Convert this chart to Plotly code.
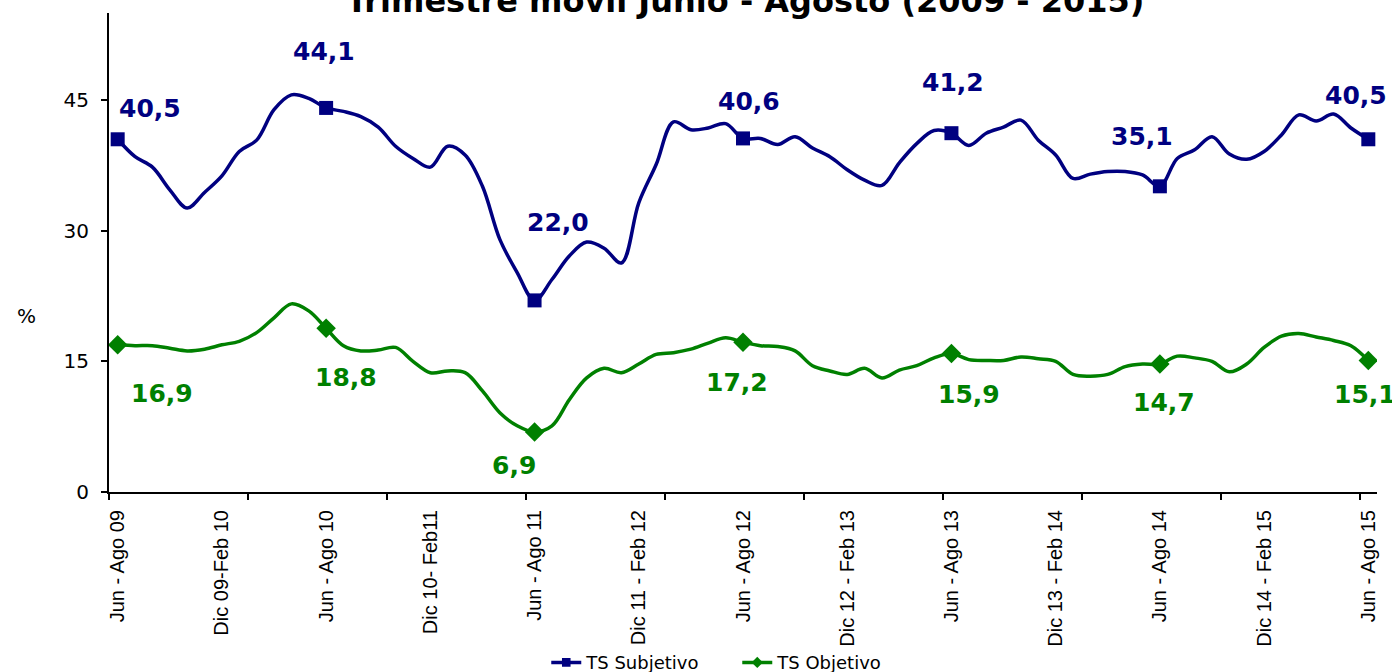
import plotly.graph_objects as go

# Rolling quarter index (monthly steps, Jun-Ago 2009 .. Jun-Ago 2015)
period_index = list(range(73))

tick_positions = list(range(0, 73, 6))
tick_labels = [
    "Jun - Ago 09", "Dic 09-Feb 10", "Jun - Ago 10", "Dic 10- Feb11",
    "Jun - Ago 11", "Dic 11 - Feb 12", "Jun - Ago 12", "Dic 12 - Feb 13",
    "Jun - Ago 13", "Dic 13 - Feb 14", "Jun - Ago 14", "Dic 14 - Feb 15",
    "Jun - Ago 15",
]

ts_subjetivo = [
    40.5, 38.5, 37.3, 34.7, 32.6, 34.4, 36.3, 39.1, 40.4, 43.9, 45.6, 45.2,
    44.1, 43.7, 43.1, 41.9, 39.7, 38.3, 37.3, 39.7, 38.7, 35.1, 29.0, 25.2,
    22.0, 24.4, 27.1, 28.7, 28.0, 26.3, 33.2, 37.6, 42.5, 41.6, 41.8, 42.3,
    40.6, 40.6, 39.9, 40.8, 39.5, 38.5, 37.0, 35.8, 35.2, 37.8, 40.0, 41.5,
    41.2, 39.8, 41.2, 41.9, 42.7, 40.4, 38.7, 36.0, 36.5, 36.8, 36.8, 36.4,
    35.1, 38.3, 39.3, 40.8, 38.8, 38.2, 39.1, 41.0, 43.3, 42.6, 43.4, 41.8,
    40.5,
]

ts_objetivo = [
    16.9, 16.8, 16.8, 16.5, 16.2, 16.4, 16.9, 17.3, 18.3, 20.0, 21.6, 20.8,
    18.8, 16.8, 16.2, 16.3, 16.6, 15.0, 13.7, 13.9, 13.7, 11.6, 9.1, 7.6,
    6.9, 7.6, 10.6, 13.1, 14.2, 13.7, 14.7, 15.8, 16.0, 16.4, 17.1, 17.7,
    17.2, 16.8, 16.7, 16.2, 14.5, 13.9, 13.5, 14.2, 13.1, 14.0, 14.5, 15.4,
    15.9, 15.2, 15.1, 15.1, 15.5, 15.3, 15.0, 13.5, 13.3, 13.5, 14.4, 14.7,
    14.7, 15.6, 15.4, 15.0, 13.8, 14.7, 16.6, 17.9, 18.2, 17.8, 17.4, 16.8,
    15.1,
]

# Jun-Ago quarters get a marker and a value label
labelled = list(range(0, 73, 12))

NAVY = "#000080"
GREEN = "#008000"
TXT_FONT = "DejaVu Sans"
AXIS_FONT = "Arial, Liberation Sans, sans-serif"

# label placement (pixel shifts from each marked point)
sub_shift = [(32, 31), (-2, 56), (23, 78), (6, 37), (2, 51), (-18, 50), (-12, 44)]
obj_shift = [(44, -49), (20, -49), (-21, -34), (-6, -40), (18, -41), (4, -39), (-3, -34)]


def marker_colors(color):
    return [color if i in labelled else "rgba(0,0,0,0)" for i in period_index]


def marker_sizes(size):
    return [size if i in labelled else 8 for i in period_index]


def fmt(v):
    return f"{v:.1f}".replace(".", ",")


fig = go.Figure()

fig.add_trace(go.Scatter(
    x=period_index, y=ts_subjetivo, name="TS Subjetivo",
    mode="lines+markers",
    line=dict(color=NAVY, width=3.5, shape="spline", smoothing=1.0),
    marker=dict(symbol="square", size=marker_sizes(14), color=marker_colors(NAVY),
                opacity=1, line=dict(width=0)),
    hoverinfo="skip",
))

fig.add_trace(go.Scatter(
    x=period_index, y=ts_objetivo, name="TS Objetivo",
    mode="lines+markers",
    line=dict(color=GREEN, width=3.5, shape="spline", smoothing=1.0),
    marker=dict(symbol="diamond", size=marker_sizes(15), color=marker_colors(GREEN),
                opacity=1, line=dict(width=0)),
    hoverinfo="skip",
))

W, H = 1392, 672
L, R, T, B = 108.6, 15, 13.3, 179.7
PW, PH = W - L - R, H - T - B


def px_x(p):
    return (p - L) / PW


def px_y(p):
    return (H - B - p) / PH


annotations = []
for k, i in enumerate(labelled):
    dx, dy = sub_shift[k]
    annotations.append(dict(
        x=i, y=ts_subjetivo[i], xref="x", yref="y", text=fmt(ts_subjetivo[i]),
        showarrow=False, xshift=dx, yshift=dy,
        font=dict(family=TXT_FONT, size=25, color=NAVY, weight="bold"),
    ))
    dx, dy = obj_shift[k]
    annotations.append(dict(
        x=i, y=ts_objetivo[i], xref="x", yref="y", text=fmt(ts_objetivo[i]),
        showarrow=False, xshift=dx, yshift=dy,
        font=dict(family=TXT_FONT, size=25, color=GREEN, weight="bold"),
    ))

# chart title (partly above the canvas)
annotations.append(dict(
    x=px_x(745), y=px_y(1), xref="paper", yref="paper", xanchor="center", yanchor="middle",
    text="<b>Trimestre móvil Junio - Agosto (2009 - 2015)</b>", showarrow=False,
    font=dict(family=TXT_FONT, size=32, color="black"),
))
# y-axis unit
annotations.append(dict(
    x=px_x(25.6), y=px_y(316), xref="paper", yref="paper", text="%", showarrow=False,
    xanchor="center", yanchor="middle",
    font=dict(family=TXT_FONT, size=20, color="black"),
))

fig.update_layout(
    width=W, height=H,
    margin=dict(l=L, r=R, t=T, b=B, pad=0, autoexpand=False),
    paper_bgcolor="white", plot_bgcolor="white",
    showlegend=True,
    legend=dict(
        orientation="h", x=px_x(546), xanchor="left",
        y=px_y(663), yanchor="middle",
        entrywidth=146, entrywidthmode="pixels",
        font=dict(family=TXT_FONT, size=18, color="black"),
        bgcolor="rgba(0,0,0,0)", itemclick=False, itemdoubleclick=False,
    ),
    annotations=annotations,
    xaxis=dict(
        range=[-0.5, 72.5], tickmode="array", tickvals=tick_positions, ticktext=tick_labels,
        tickangle=-90, ticks="", ticklabelstandoff=8, automargin=False,
        tickfont=dict(family=AXIS_FONT, size=20, color="black"),
        showline=True, linecolor="black", linewidth=2, showgrid=False, zeroline=False,
        minor=dict(tickmode="array", tickvals=[-0.5 + 8 * k for k in range(10)],
                   ticks="outside", ticklen=6, tickwidth=2, tickcolor="black", showgrid=False),
    ),
    yaxis=dict(
        range=[0, 55], tickmode="array", tickvals=[0, 15, 30, 45],
        ticks="outside", ticklen=6, tickwidth=2, tickcolor="black",
        ticklabelstandoff=8, automargin=False,
        tickfont=dict(family=TXT_FONT, size=20, color="black"),
        showline=True, linecolor="black", linewidth=2, showgrid=False, zeroline=False,
    ),
)

fig.write_html("out.html")
